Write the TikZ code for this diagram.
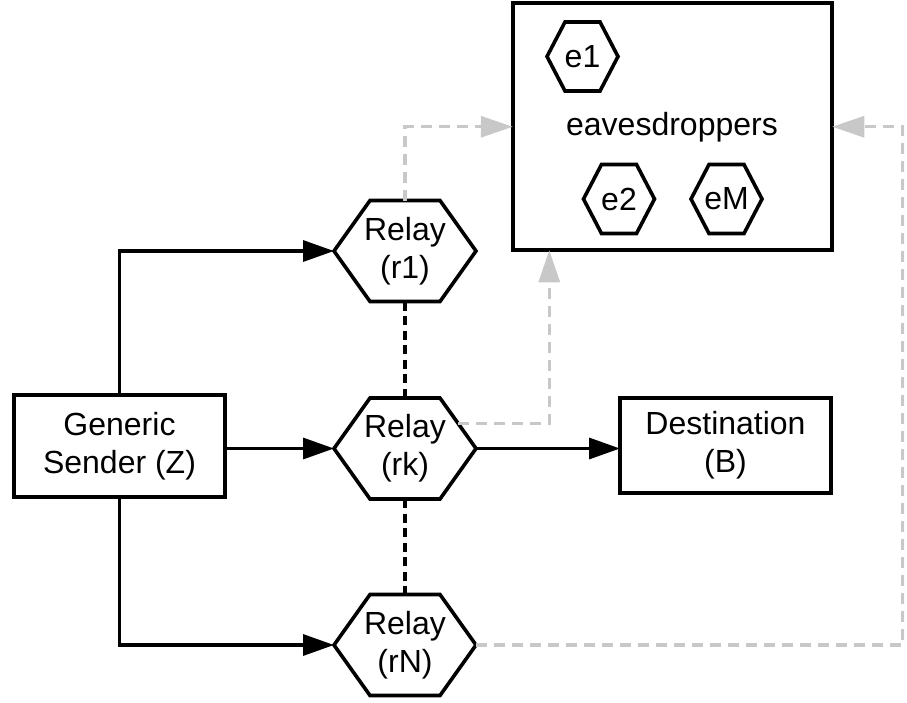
\documentclass[tikz,border=0pt]{standalone}
\usepackage{fontspec}
\setmainfont{Liberation Sans}
\usetikzlibrary{arrows.meta,calc}

% hexagon outline drawn over a (borderless) rectangular node: #1 node name, #2 corner inset
\newcommand\hexoutline[2]{%
  \draw[hexline] (#1.west) -- ([xshift=#2]#1.north west) -- ([xshift=-#2]#1.north east)
    -- (#1.east) -- ([xshift=-#2]#1.south east) -- ([xshift=#2]#1.south west) -- cycle;}

\begin{document}
\begin{tikzpicture}[x=1pt,y=-1pt,
  lbl/.style={font=\fontsize{32}{38}\selectfont, align=center, inner sep=0pt, outer sep=0pt},
  boxnode/.style={lbl, draw, line width=3.8pt, minimum width=211pt},
  relay/.style={lbl, minimum width=142pt, minimum height=101pt},
  eve/.style={lbl, minimum width=71pt, minimum height=69pt},
  hexline/.style={line width=3.6pt, line join=miter},
  conn/.style={line width=3.4pt, -{Triangle[length=31pt,width=21pt]}},
  link/.style={line width=3.2pt, dash pattern=on 9pt off 5.5pt},
  leak/.style={line width=3.2pt, draw={rgb,255:red,200;green,200;blue,200},
    dash pattern=on 11pt off 7pt,
    -{Triangle[length=32pt,width=21pt,fill={rgb,255:red,200;green,200;blue,200}]}},
]
\useasboundingbox (0,0) rectangle (907,702);

% eavesdropper group
\node[draw, line width=4.4pt, minimum width=319.5pt, minimum height=247pt, inner sep=0pt, outer sep=0pt] (eav) at (672.5,126.75) {};
\node[lbl] (eavtxt) at (672,127) {eavesdroppers};
\node[eve] (e1) at (582.5,56.5) {e1};
\node[eve] (e2) at (619,199) {e2};
\node[eve] (eM) at (726.5,199) {eM};
\hexoutline{e1}{18pt}
\hexoutline{e2}{18pt}
\hexoutline{eM}{18pt}

% sender, relays, destination
\node[boxnode, minimum height=102pt] (snd) at (119.5,446) {Generic\\Sender (Z)};
\node[boxnode, minimum height=95pt] (dst) at (725.5,445.5) {Destination\\(B)};
\node[relay] (r1) at (405,251) {Relay\\(r1)};
\node[relay] (rk) at (405,448.5) {Relay\\(rk)};
\node[relay] (rN) at (405,645) {Relay\\(rN)};
\hexoutline{r1}{36pt}
\hexoutline{rk}{36pt}
\hexoutline{rN}{36pt}

% main links
\draw[conn] (snd.north) |- (r1.west);
\draw[conn] (snd.east |- rk.west) -- (rk.west);
\draw[conn] (snd.south) |- (rN.west);
\draw[conn] (rk.east) -- (rk.east -| dst.west);
\draw[link] (r1.south) -- (rk.north);
\draw[link] (rk.south) -- (rN.north);

% leakage towards the eavesdroppers
\coordinate (rkleak) at ($([xshift=-36pt]rk.north east)!0.5!(rk.east)$);
\draw[leak] (r1.north) |- (eav.west);
\draw[leak] (rkleak) -| ([xshift=36.5pt]eav.south west);
\draw[leak] (rN.east) -| ($(eav.east)+(70.5,0)$) -- (eav.east);
\end{tikzpicture}
\end{document}
